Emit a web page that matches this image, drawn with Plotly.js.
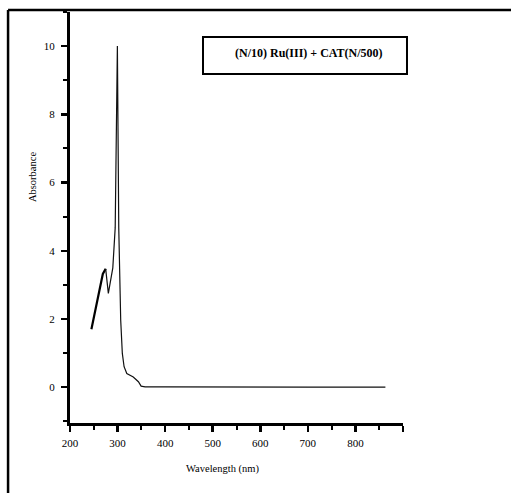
<!DOCTYPE html>
<html>
<head>
<meta charset="utf-8">
<script src="https://cdn.plot.ly/plotly-3.0.1.min.js"></script>
<style>html,body{margin:0;padding:0;background:#fff;}#chart{width:511px;height:493px;}</style>
</head>
<body>
<div id="chart"></div>
<script>
// Thick early segment of the spectrum
const wlA = [245, 257, 269, 275];
const absA = [1.70, 2.50, 3.32, 3.47];
// Remaining spectrum
const wlB = [275, 280.6, 290, 294.5, 295, 299.6, 302.5, 306.6, 310, 313.7, 319.4, 333, 343.8, 349.5, 358, 400, 500, 600, 700, 800, 863];
const absB = [3.47, 2.75, 3.50, 4.38, 4.67, 10.0, 4.67, 1.96, 0.99, 0.60, 0.40, 0.30, 0.16, 0.03, 0.01, 0.01, 0.0, 0.0, 0.0, 0.0, 0.0];
const xTicks = [200, 300, 400, 500, 600, 700, 800, 900];
const xTickText = ['200', '300', '400', '500', '600', '700', '800', ''];
const xMinor = [250, 350, 450, 550, 650, 750, 850];
const yTicks = [0, 2, 4, 6, 8, 10];
const yMinor = [-1, 1, 3, 5, 7, 9, 11];
const legendText = '(N/10) Ru(III) + CAT(N/500)';
const xTitle = 'Wavelength (nm)';
const yTitle = 'Absorbance';

const serif = 'Liberation Serif';

const traces = [
  {x: wlA, y: absA, mode: 'lines', line: {color: '#000', width: 2.2}, hoverinfo: 'skip', showlegend: false},
  {x: wlB, y: absB, mode: 'lines', line: {color: '#111', width: 1.2}, hoverinfo: 'skip', showlegend: false}
];

const layout = {
  width: 511, height: 493,
  margin: {l: 70, r: 108, t: 12, b: 70},
  paper_bgcolor: '#fff', plot_bgcolor: '#fff',
  showlegend: false,
  font: {family: serif, color: '#000'},
  xaxis: {
    range: [200, 900], showgrid: false, zeroline: false,
    showline: true, linewidth: 3, linecolor: '#000',
    ticks: 'outside', tickvals: xTicks, ticktext: xTickText,
    ticklen: 6, tickwidth: 2.5, tickcolor: '#000',
    ticklabelstandoff: 2,
    minor: {ticks: 'outside', tickvals: xMinor, ticklen: 4, tickwidth: 2, tickcolor: '#000', showgrid: false},
    tickfont: {family: serif, size: 11, color: '#000'}
  },
  yaxis: {
    range: [-1.05, 11], showgrid: false, zeroline: false,
    showline: true, linewidth: 3, linecolor: '#000',
    ticks: 'outside', tickvals: yTicks,
    ticklen: 6, tickwidth: 2.5, tickcolor: '#000',
    ticklabelstandoff: 4,
    minor: {ticks: 'outside', tickvals: yMinor, ticklen: 4, tickwidth: 2, tickcolor: '#000', showgrid: false},
    tickfont: {family: serif, size: 11, color: '#000'}
  },
  annotations: [
    {text: yTitle, xref: 'paper', yref: 'paper', x: -0.114, y: 0.5985, textangle: -90,
     showarrow: false, font: {family: serif, size: 10.5, color: '#000'}, xanchor: 'center', yanchor: 'middle'},
    {text: xTitle, xref: 'paper', yref: 'paper', x: 0.458, y: -0.112,
     showarrow: false, font: {family: serif, size: 10.5, color: '#000'}, xanchor: 'center', yanchor: 'middle'},
    {text: '<b>' + legendText + '</b>', xref: 'paper', yref: 'paper', x: 0.7177, y: 0.900,
     showarrow: false, font: {family: serif, size: 12, color: '#000'}, xanchor: 'center', yanchor: 'middle'}
  ],
  shapes: [
    {type: 'rect', xref: 'paper', yref: 'paper', x0: 0.3994, x1: 1.012, y0: 0.849, y1: 0.939,
     line: {color: '#000', width: 2}, fillcolor: 'rgba(0,0,0,0)'},
    {type: 'line', xref: 'paper', yref: 'paper', x0: -0.186, x1: 1.33, y0: 1.0049, y1: 1.0049,
     line: {color: '#000', width: 2.5}},
    {type: 'line', xref: 'paper', yref: 'paper', x0: -0.186, x1: -0.186, y0: 1.0049, y1: -0.18,
     line: {color: '#000', width: 2.5}}
  ]
};

Plotly.newPlot('chart', traces, layout, {displayModeBar: false, staticPlot: true});
</script>
</body>
</html>
